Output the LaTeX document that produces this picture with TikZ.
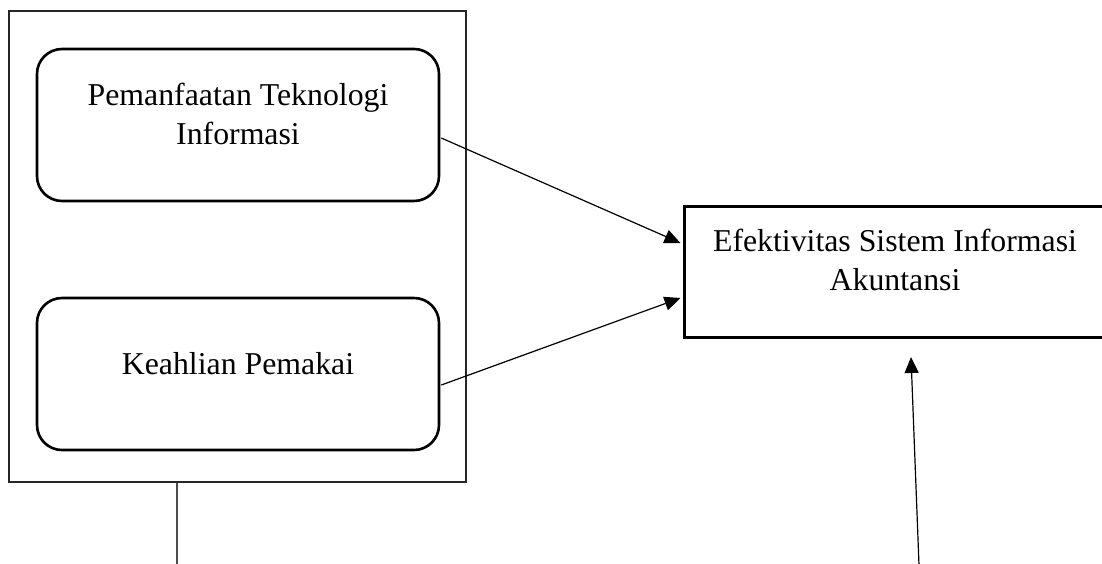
\documentclass[tikz,border=0pt]{standalone}
\usepackage{fontspec}
\setmainfont{Liberation Serif}
\usetikzlibrary{arrows.meta,calc}

\begin{document}
\begin{tikzpicture}[x=1pt,y=-1pt]
	\tikzstyle{group} = [draw=black!85,line width=1.2pt,minimum width=457pt,minimum height=471pt,inner sep=0pt]
	\tikzstyle{varbox} = [draw=black,line width=2.6pt,rounded corners=25pt,minimum width=402pt,minimum height=152pt,inner sep=0pt]
	\tikzstyle{resbox} = [draw=black,line width=3pt,minimum width=422pt,minimum height=131pt,inner sep=0pt]
	\tikzstyle{lbl} = [align=center,inner sep=0pt,anchor=base,font=\fontsize{31.8}{39}\selectfont]
	\tikzstyle{link} = [-{Triangle[width=14pt,length=16pt]},line width=1.2pt]
	\useasboundingbox (0,0) rectangle (1102,563);
	% independent variables
	\node[group] (grp) at (237.5, 246.5) {};
	\node[varbox] (tech) at (238, 125) {};
	\node[lbl] (techtext) at ($(tech.center)+(0,19)$) {Pemanfaatan Teknologi\\Informasi};
	\node[varbox] (skill) at (238, 374) {};
	\node[lbl] (skilltext) at (skill.center) {Keahlian Pemakai};
	% dependent variable
	\node[resbox] (sia) at (895, 271.5) {};
	\node[lbl] (siatext) at ($(sia.center)+(0,18.5)$) {Efektivitas Sistem Informasi\\Akuntansi};
	% connections
	\draw[link] ($(tech.east)+(1,13)$) -- ($(sia.west)+(-2,-28.5)$);
	\draw[link] ($(skill.east)+(1,11)$) -- ($(sia.west)+(-2,26.5)$);
	% lines leaving the picture
	\coordinate (stem) at (177, 565);
	\draw[draw=black!70,line width=1.2pt] (grp.south -| stem) -- (stem);
	\coordinate (foot) at (919, 565);
	\coordinate (tip) at (911, 357);
	\draw[link] (foot) -- (tip);
\end{tikzpicture}
\end{document}
